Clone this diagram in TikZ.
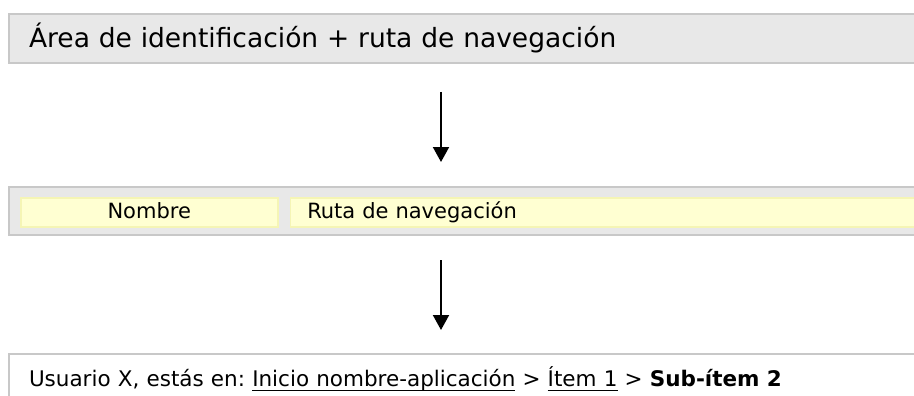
\documentclass[tikz,border=0pt]{standalone}
\usepackage{fontspec}
\setmainfont{DejaVu Sans}
\usepackage{tikz}
\usetikzlibrary{positioning,arrows.meta}

\definecolor{boxfill}{HTML}{E8E8E8}
\definecolor{boxline}{HTML}{C8C8C8}
\definecolor{cellfill}{HTML}{FFFFD2}
\definecolor{cellline}{HTML}{F5F5B5}

\newsavebox\linkbox
\newcommand{\navlink}[1]{\sbox\linkbox{#1}\rlap{\rule[-5pt]{\wd\linkbox}{1.5pt}}\usebox\linkbox}
\frenchspacing

\begin{document}
\begin{tikzpicture}[x=1pt,y=-1pt,
    areabox/.style={draw=boxline, fill=boxfill, line width=2pt, anchor=north west,
        inner xsep=20pt, inner ysep=0pt, text width=890pt, align=left},
    cellbox/.style={draw=cellline, fill=cellfill, line width=1.5pt, inner ysep=0pt,
        minimum height=29pt, text height=14pt, text depth=1pt,
        font=\fontsize{21}{25}\selectfont},
    flow/.style={line width=2pt, -{Triangle[width=16pt,length=15pt]}}]
   \useasboundingbox (0,0) rectangle (914,396);
   \clip (0,0) rectangle (914,396);
   \coordinate (flowcol) at (441,0);
   \node[areabox, minimum height=49pt, text height=20pt, text depth=1pt,
         font=\fontsize{26.5}{31}\selectfont] (idarea) at (8,13)
         {Área de identificación + ruta de navegación};
   \node[areabox, minimum height=48pt] (navbar) at (8,186) {};
   \node[cellbox, anchor=north west, minimum width=257pt] (nombre)
         at ([xshift=12pt,yshift=-11pt]navbar.north west) {Nombre};
   \node[cellbox, anchor=west, inner xsep=17pt, text width=640pt, align=left] (ruta)
         [right=11pt of nombre] {Ruta de navegación};
   \node[areabox, fill=white, minimum height=60pt, text height=14pt, text depth=10pt,
         font=\fontsize{21.5}{26}\selectfont] (userline) at (8,353)
         {Usuario X, estás en: \navlink{Inicio nombre-aplicación} > \navlink{Ítem 1} > \textbf{Sub-ítem 2}};
   \draw[flow] ([yshift=-28pt]idarea.south -| flowcol) -- ([yshift=24pt]navbar.north -| flowcol);
   \draw[flow] ([yshift=-24pt]navbar.south -| flowcol) -- ([yshift=23pt]userline.north -| flowcol);
\end{tikzpicture}
\end{document}
